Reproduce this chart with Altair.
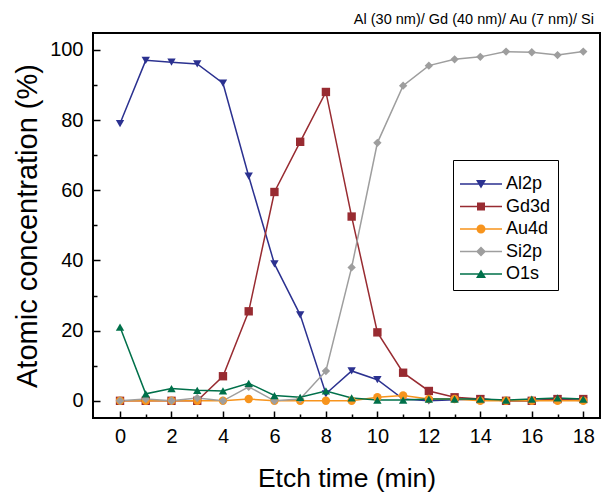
import altair as alt
import pandas as pd

etch_time = list(range(19))
al2p = [79, 97, 96.5, 96, 90.5, 64, 39, 24.5, 2, 8.5, 6, 0.5, 0, 0.3, 0.5, 0, 0, 0.5, 0]
gd3d = [0, 0, 0, 0, 7, 25.5, 59.5, 73.8, 88, 52.5, 19.5, 8, 2.8, 1, 0.5, 0, 0, 0.5, 0.5]
au4d = [0, 0, 0, 0, 0, 0.5, 0, 0, 0, 0, 1, 1.5, 0.5, 0.5, 0, 0, 0, 0, 0]
si2p = [0, 0.5, 0, 0.8, 0, 4, 0, 0.5, 8.5, 38, 73.5, 89.8, 95.5, 97.3, 98, 99.5, 99.3, 98.5, 99.5]
o1s = [21, 2, 3.5, 3, 2.8, 5, 1.5, 1, 2.8, 0.8, 0.2, 0.2, 0.5, 0.5, 0.5, 0.2, 0.5, 0.8, 0.5]

series_names = ["Al2p", "Gd3d", "Au4d", "Si2p", "O1s"]
series_colors = ["#2b3190", "#982b31", "#f7941d", "#9e9e9e", "#00704a"]
plot_shapes = ["triangle-down", "square", "circle", "diamond", "triangle-up"]

x_major = [0, 2, 4, 6, 8, 10, 12, 14, 16, 18]
x_minor = [1, 3, 5, 7, 9, 11, 13, 15, 17]
y_major = [0, 20, 40, 60, 80, 100]
y_minor = [10, 30, 50, 70, 90]

title_text = "Al (30 nm)/ Gd (40 nm)/ Au (7 nm)/ Si"

rows = []
for name, vals in zip(series_names, [al2p, gd3d, au4d, si2p, o1s]):
    for t, v in zip(etch_time, vals):
        rows.append({"t": t, "v": v, "series": name})
df = pd.DataFrame(rows)

W, H = 507, 385
FONT = "Liberation Sans"

# legend symbols: line segment + marker (all filled, clockwise), drawn to the right of the anchor
line_seg = "M-1,-0.15H7.4V0.15H-1Z"
legend_paths = [
    line_seg + "M2.2,-0.8L4.2,-0.8L3.2,0.9Z",
    line_seg + "M2.4,-0.8H4.0V0.8H2.4Z",
    line_seg + "M2.3,0A0.9,0.9 0 1,1 4.1,0A0.9,0.9 0 1,1 2.3,0Z",
    line_seg + "M3.2,-1L4.2,0L3.2,1L2.2,0Z",
    line_seg + "M3.2,-0.9L4.2,0.8L2.2,0.8Z",
]

xscale = alt.Scale(domain=[-1.05, 18.65], nice=False, zero=False)
yscale = alt.Scale(domain=[-4.9, 104.8], nice=False, zero=False)
color_scale = alt.Scale(domain=series_names, range=series_colors)

base = alt.Chart(df)

lines = base.mark_line(strokeWidth=1.5).encode(
    x=alt.X("t:Q", scale=xscale, axis=alt.Axis(
        orient="bottom", values=x_major, ticks=False, tickSize=0, domain=False, grid=False,
        labelFontSize=20, labelFont=FONT, labelColor="black", labelPadding=8,
        title="Etch time (min)", titleFontSize=26.5, titleFont=FONT, titleFontWeight="normal",
        titleColor="black", titlePadding=19)),
    y=alt.Y("v:Q", scale=yscale, axis=alt.Axis(
        orient="left", values=y_major, ticks=False, tickSize=0, domain=False, grid=False,
        labelFontSize=20, labelFont=FONT, labelColor="black", labelPadding=10,
        title="Atomic concentration (%)", titleFontSize=29, titleFont=FONT,
        titleFontWeight="normal", titleColor="black", titlePadding=7)),
    color=alt.Color("series:N", scale=color_scale, legend=None),
    detail="series:N",
    order=alt.Order("t:Q"),
)

points = base.mark_point(filled=True, size=70, opacity=1).encode(
    x=alt.X("t:Q", scale=xscale, axis=alt.Axis(
        orient="top", offset=-H, values=x_major, labels=False, ticks=True, tickSize=7,
        tickWidth=1.5, tickColor="black", domain=False, grid=False, title=None)),
    y=alt.Y("v:Q", scale=yscale, axis=alt.Axis(
        orient="right", offset=-W, values=y_major, labels=False, ticks=True, tickSize=7,
        tickWidth=1.5, tickColor="black", domain=False, grid=False, title=None)),
    color=alt.Color("series:N", scale=color_scale, legend=None),
    shape=alt.Shape("series:N", scale=alt.Scale(domain=series_names, range=plot_shapes), legend=None),
)

legend_props = dict(
    title=" ", titleFontSize=6, titlePadding=2, orient="none", legendX=360, legendY=127,
    symbolSize=100, symbolOffset=-4, labelOffset=32,
    labelFontSize=18, labelFont=FONT, labelColor="black",
    padding=7, rowPadding=4.5, fillColor="white", strokeColor="black")

legend_layer = base.transform_filter("false").mark_point(filled=True, size=100, opacity=1).encode(
    x=alt.X("t:Q", scale=xscale, axis=alt.Axis(
        orient="top", offset=-H, values=x_minor, labels=False, ticks=True, tickSize=4,
        tickWidth=1.5, tickColor="black", domain=False, grid=False, title=None)),
    y=alt.Y("v:Q", scale=yscale, axis=alt.Axis(
        orient="right", offset=-W, values=y_minor, labels=False, ticks=True, tickSize=4,
        tickWidth=1.5, tickColor="black", domain=False, grid=False, title=None)),
    color=alt.Color("series:N", scale=color_scale, legend=alt.Legend(**legend_props)),
    shape=alt.Shape("series:N", scale=alt.Scale(domain=series_names, range=legend_paths),
                    legend=alt.Legend(**legend_props)),
)

chart = alt.layer(lines, points, legend_layer).resolve_scale(
    color="independent", shape="independent"
).resolve_axis(
    x="independent", y="independent"
).properties(
    width=W, height=H,
    background="white",
    title=alt.TitleParams(title_text, anchor="end", fontSize=14.5, font=FONT,
                          fontWeight="normal", color="black", offset=12,
                          baseline="alphabetic", dx=-6, dy=17),
    autosize=alt.AutoSizeParams(type="none"),
    padding={"left": 93, "top": 33, "right": 3, "bottom": 78},
).configure_view(
    stroke="black", strokeWidth=2
).configure_legend(
    strokeWidth=1
)

chart.save("out.html", embed_options={"renderer": "svg", "actions": False})
